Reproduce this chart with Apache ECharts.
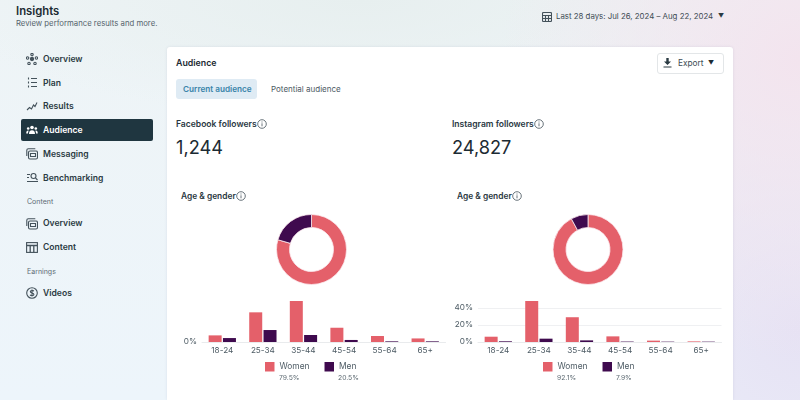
<!DOCTYPE html>
<html>
<head>
<meta charset="utf-8">
<script src="https://cdn.jsdelivr.net/npm/echarts@6/dist/echarts.min.js"></script>
<style>
html,body{margin:0;padding:0;width:800px;height:400px;overflow:hidden;font-family:Inter,"Noto Sans",sans-serif;color:#1c2b33}
#bg{position:absolute;inset:0;background:
 radial-gradient(ellipse 300px 300px at 800px 60px,#f3e4ee 0%,rgba(243,228,238,0) 100%),
 radial-gradient(ellipse 300px 320px at 800px 330px,#e6e2f4 0%,rgba(230,226,244,0) 100%),
 radial-gradient(ellipse 420px 120px at 360px 0px,#e7efef 0%,rgba(231,239,239,0) 100%),
 linear-gradient(180deg,#eef4f6 0%,#edf5fb 100%)}
#card{position:absolute;left:167px;top:47px;width:566px;height:353px;background:#fff;border-radius:3px 3px 0 0;box-shadow:0 0 3px rgba(80,90,120,.12)}
#main{position:absolute;left:0;top:0;width:800px;height:400px}
.t{position:absolute;white-space:nowrap;line-height:1}
.nav{font-size:8.6px;font-weight:600;left:43px;color:#2a3a42}
.sec{font-size:7px;left:27px;color:#5d6c75}
.lab{font-size:8.55px;font-weight:600;color:#29373f}
.big{font-size:18.2px;font-weight:400;color:#1c2b33}
svg.i{position:absolute;fill:none;stroke:#44525b;stroke-width:1.1}
#sel{position:absolute;left:21px;top:119px;width:132px;height:22px;background:#1f3640;border-radius:2px}
#pill{position:absolute;left:176px;top:79px;width:81px;height:20px;background:#dfebf4;border-radius:3px}
#exp{position:absolute;left:657px;top:53px;width:65px;height:19px;background:#fff;border:1px solid #e3e6e8;border-radius:3px}
</style>
</head>
<body>
<div id="bg"></div>
<div id="card"></div>
<div id="sel"></div>
<div id="pill"></div>
<div id="exp"></div>
<div class="t" style="left:16px;top:6px;font-size:11.3px;font-weight:600">Insights</div>
<div class="t" style="left:16px;top:19.5px;font-size:7.75px;color:#55636c">Review performance results and more.</div>
<div class="t" style="left:556px;top:12.5px;font-size:7.85px;color:#3d4b54">Last 28 days: Jul 26, 2024 – Aug 22, 2024</div>
<div class="t" style="left:718px;top:13px;font-size:6px;color:#2a3a42">▼</div>
<svg class="i" style="left:542px;top:12px" width="10" height="10" viewBox="0 0 10 10"><rect x=".5" y=".5" width="9" height="9" rx="1"/><path d="M.5 3.5h9M.5 6.5h9M3.5 3.5v6M6.5 3.5v6"/></svg>

<div class="t nav" style="top:54.5px">Overview</div>
<div class="t nav" style="top:78.5px">Plan</div>
<div class="t nav" style="top:102px">Results</div>
<div class="t nav" style="top:126px;color:#fff">Audience</div>
<div class="t nav" style="top:149.5px">Messaging</div>
<div class="t nav" style="top:173.5px">Benchmarking</div>
<div class="t sec" style="top:198px">Content</div>
<div class="t nav" style="top:219px">Overview</div>
<div class="t nav" style="top:243px">Content</div>
<div class="t sec" style="top:268px">Earnings</div>
<div class="t nav" style="top:288.5px">Videos</div>

<svg class="i" style="left:26px;top:53px" width="12" height="12" viewBox="0 0 12 12"><circle cx="6" cy="6" r="1.6" fill="#44525b"/><circle cx="6" cy="1.6" r="1.2"/><circle cx="1.6" cy="5" r="1.2"/><circle cx="10.4" cy="5" r="1.2"/><circle cx="3" cy="10.4" r="1.2"/><circle cx="9" cy="10.4" r="1.2"/></svg>
<svg class="i" style="left:27px;top:77px" width="11" height="11" viewBox="0 0 11 11"><path d="M4 1.500h6M4 5.500h6M4 9.500h6M1.500 .5v2M1.500 4.500v2M1.500 8.500v2"/></svg>
<svg class="i" style="left:26px;top:101px" width="12" height="11" viewBox="0 0 12 11"><path d="M1 9l2.500-2.500 2 1.500 2-4 1.500 1.500L11 1.500"/></svg>
<svg class="i" style="left:26px;top:125px;fill:#fff;stroke:none" width="12" height="10" viewBox="0 0 12 10"><circle cx="6" cy="2.500" r="1.800"/><circle cx="2.200" cy="3.500" r="1.300"/><circle cx="9.800" cy="3.500" r="1.300"/><path d="M3 9c0-2.800 1.200-3.800 3-3.800S9 6.200 9 9zM.2 8.500c0-2 .7-3 1.900-3l.6.2C2.200 6.500 2 7.500 2 8.500zM11.800 8.500c0-2-.7-3-1.900-3l-.6.2c.5.800.7 1.800.7 2.800z"/></svg>
<svg class="i" style="left:26px;top:148px" width="12" height="12" viewBox="0 0 12 12"><rect x="2.500" y="3" width="9" height="8" rx="1.500"/><path d="M.8 8V2.300q0-1.500 1.500-1.500h7"/><path d="M4.500 5.500h5v3h-5z"/></svg>
<svg class="i" style="left:26px;top:172px" width="13" height="11" viewBox="0 0 13 11"><path d="M1 2.500h3M1 5.500h2M1 9.500h11"/><circle cx="7.500" cy="4" r="2.500"/><path d="M9.500 6l2 2"/></svg>
<svg class="i" style="left:26px;top:218px" width="12" height="12" viewBox="0 0 12 12"><rect x="2.500" y="3" width="9" height="8" rx="1.500"/><path d="M.8 8V2.300q0-1.500 1.500-1.500h7"/><path d="M4.500 5.500h5v3h-5z"/></svg>
<svg class="i" style="left:26px;top:242px" width="12" height="11" viewBox="0 0 12 11"><rect x=".6" y=".6" width="10.800" height="9.800"/><path d="M.6 3.500h10.800M4.200 3.500v6.900M7.800 3.500v6.900" stroke-width="1.300"/></svg>
<svg class="i" style="left:26px;top:287px" width="12" height="12" viewBox="0 0 12 12"><circle cx="6" cy="6" r="5.300"/><path d="M7.800 4.200C7.300 3.200 4.300 3 4.300 4.600 4.300 6.400 7.900 5.500 7.900 7.400 7.900 9 4.600 8.800 4.100 7.700M6 2.400v7.200"/></svg>

<div class="t" style="left:176px;top:58.5px;font-size:8.8px;font-weight:600">Audience</div>
<div class="t" style="left:183px;top:85px;font-size:8.2px;font-weight:600;color:#3a85aa">Current audience</div>
<div class="t" style="left:271px;top:85px;font-size:8px;color:#4c5a63">Potential audience</div>
<div class="t" style="left:678px;top:59px;font-size:8.3px;color:#3d4b54">Export</div>
<div class="t" style="left:708px;top:60px;font-size:6px;color:#1c2b33">▼</div>
<svg class="i" style="left:663px;top:58px;fill:#2a3a42;stroke:none" width="9" height="10" viewBox="0 0 9 10"><path d="M3.300 0h2.400v3.500H8L4.500 7 1 3.500h2.300zM.5 8.500h8v1h-8z"/></svg>

<div class="t lab" style="left:176px;top:120px">Facebook followers</div>
<div class="t lab" style="left:452px;top:120px">Instagram followers</div>
<div class="t big" style="left:176px;top:137.5px">1,244</div>
<div class="t big" style="left:452px;top:137.5px">24,827</div>
<div class="t lab" style="left:181px;top:192px;font-size:8.4px">Age &amp; gender</div>
<div class="t lab" style="left:457px;top:192px;font-size:8.4px">Age &amp; gender</div>
<svg class="i" style="left:257px;top:119px;stroke-width:.8" width="10" height="10" viewBox="0 0 10 10"><circle cx="5" cy="5" r="4.300"/><path d="M5 4.300v3M5 2.500v1"/></svg>
<svg class="i" style="left:534px;top:119px;stroke-width:.8" width="10" height="10" viewBox="0 0 10 10"><circle cx="5" cy="5" r="4.300"/><path d="M5 4.300v3M5 2.500v1"/></svg>
<svg class="i" style="left:236px;top:191px;stroke-width:.8" width="10" height="10" viewBox="0 0 10 10"><circle cx="5" cy="5" r="4.300"/><path d="M5 4.300v3M5 2.500v1"/></svg>
<svg class="i" style="left:512px;top:191px;stroke-width:.8" width="10" height="10" viewBox="0 0 10 10"><circle cx="5" cy="5" r="4.300"/><path d="M5 4.300v3M5 2.500v1"/></svg>
<div id="main"></div>
<script>
const ageGroups = ['18-24','25-34','35-44','45-54','55-64','65+'];
const fbWomen = [5.2,23.3,32.2,11.2,4.7,2.8];
const fbMen = [3.1,9.4,5.5,1.6,0.5,0.5];
const igWomen = [6.2,48,29,6.6,1.6,0.7];
const igMen = [0.8,3.9,1.9,0.5,0.4,0.4];
const fbShare = {Women:79.5, Men:20.5};
const igShare = {Women:92.1, Men:7.9};
const pink = '#e4606a', purple = '#3f0a4e';

const chart = echarts.init(document.getElementById('main'), null, {renderer:'canvas'});
const labelStyle = {color:'#4d5b64', fontSize:8.2, fontFamily:'Inter'};
function bar(name, data, idx){
  return {type:'bar', name, data, xAxisIndex:idx, yAxisIndex:idx, barWidth:13, barGap:'10%',
    itemStyle:{color:name==='Women'?pink:purple}, silent:true, animation:false};
}
function donut(center, share){
  return {type:'pie', center, radius:[22,35], startAngle:90, clockwise:true, label:{show:false}, labelLine:{show:false},
    silent:true, animation:false,
    itemStyle:{borderColor:'#fbe9ee', borderWidth:0.8},
    data:[{name:'Women',value:share.Women,itemStyle:{color:pink}},{name:'Men',value:share.Men,itemStyle:{color:purple}}]};
}
function xAxis(idx){
  return {type:'category', gridIndex:idx, data:ageGroups, axisTick:{show:false},
    axisLine:{lineStyle:{color:'#e9ebed',width:1}}, axisLabel:{...labelStyle, margin:5}};
}
function yAxis(idx, max, interval){
  return {type:'value', gridIndex:idx, min:0, max, interval,
    axisLabel:{...labelStyle, margin:5, showMaxLabel:false, formatter:'{value}%'},
    axisLine:{show:false}, axisTick:{show:false},
    splitLine:{show:true, showMaxLine:false, lineStyle:{color:'#eff0f2',width:1}}};
}
function legend(left){
  return {left, top:362, padding:0, selectedMode:false, icon:'rect', itemWidth:9.5, itemHeight:9.5, itemGap:15,
    data:['Women','Men'], textStyle:{...labelStyle, fontSize:8.4}};
}
function shareText(x, v){
  return {type:'text', left:x, top:374, style:{text:v.toFixed(1)+'%', fill:'#5d6a72', fontSize:6.8, fontFamily:'Inter'}};
}
chart.setOption({
  backgroundColor:'transparent', animation:false,
  grid:[{left:202, width:243.5, top:301, height:41},{left:478, width:243.5, top:301, height:41}],
  xAxis:[xAxis(0),xAxis(1)],
  yAxis:[yAxis(0,32.2,100),yAxis(1,48,20)],
  legend:[legend(265),legend(543)],
  series:[bar('Women',fbWomen,0),bar('Men',fbMen,0),bar('Women',igWomen,1),bar('Men',igMen,1),
    donut([311.5,249.5],fbShare),donut([588,249.5],igShare)],
  graphic:[shareText(279,fbShare.Women),shareText(338,fbShare.Men),shareText(557,igShare.Women),shareText(616,igShare.Men)]
});
</script>
</body>
</html>
